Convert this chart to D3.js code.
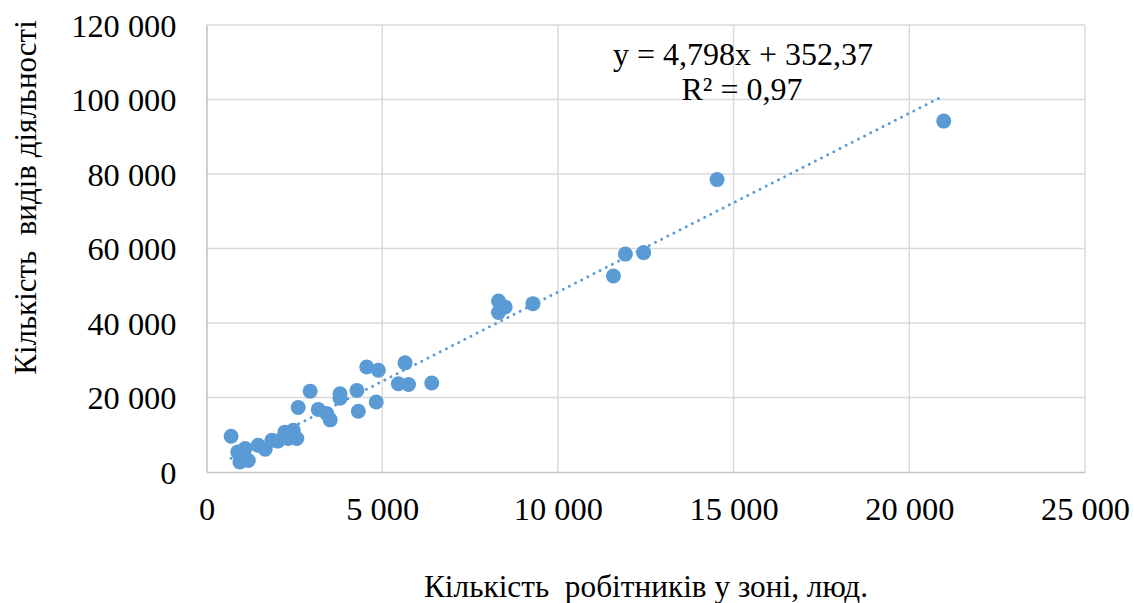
<!DOCTYPE html>
<meta charset="utf-8">
<style>
  body { margin: 0; background: #fff; }
</style>
<body>
<script src="https://cdnjs.cloudflare.com/ajax/libs/d3/7.8.5/d3.min.js"></script>
<script>
  // workers in zone (x) and kinds of activity (y)
  var workers = [700, 890, 1100, 950, 1190, 1040, 1470, 1670, 1860, 2030,
    2230, 2470, 2320, 2570, 2610, 2950, 3180, 3420, 3520, 3800,
    3800, 4280, 4320, 4560, 4890, 4830, 5460, 5750, 5650, 6410,
    8310, 8310, 8500, 9290, 11580, 11920, 12440, 14530, 20980];
  var activities = [9600, 5400, 6300, 2700, 3100, 4200, 7200, 6100, 8500, 8300,
    10700, 11200, 9000, 9000, 17300, 21700, 16800, 15700, 14000, 21000,
    19800, 21900, 16300, 28200, 27300, 18800, 23700, 23500, 29300, 23900,
    45900, 42800, 44300, 45200, 52600, 58500, 58900, 78500, 94200];

  var xTicks = [0, 5000, 10000, 15000, 20000, 25000];
  var yTicks = [0, 20000, 40000, 60000, 80000, 100000, 120000];

  var trendSlope = 4.798, trendIntercept = 352.37;
  var trendLabel = ["y = 4,798x + 352,37", "R² = 0,97"];
  var xTitle = "Кількість  робітників у зоні, люд.";
  var yTitle = "Кількість  видів діяльності";

  var font = "Liberation Serif, Times New Roman, serif";

  var W = 1133, H = 603;
  var margin = {top: 25, right: 48, bottom: 131, left: 206.5};
  var width = W - margin.left - margin.right,
      height = H - margin.top - margin.bottom;

  var locale = d3.formatLocale({decimal: ",", thousands: "\u00a0", grouping: [3], currency: ["", ""]});
  var fmt = locale.format(",");

  var svg = d3.select("body").append("svg")
    .attr("width", W)
    .attr("height", H)
    .attr("font-family", font);

  var g = svg.append("g")
    .attr("transform", "translate(" + margin.left + "," + margin.top + ")");

  var x = d3.scaleLinear().domain([0, 25000]).range([0, width]);
  var y = d3.scaleLinear().domain([0, 120000]).range([height, 0]);

  // gridlines
  g.append("g").selectAll("line")
    .data(yTicks.slice(1))
    .enter().append("line")
    .attr("x1", 0).attr("x2", width)
    .attr("y1", function(d) { return y(d); })
    .attr("y2", function(d) { return y(d); })
    .attr("stroke", "#d9d9d9").attr("stroke-width", 1.4);

  g.append("g").selectAll("line")
    .data(xTicks.slice(1))
    .enter().append("line")
    .attr("y1", 0).attr("y2", height)
    .attr("x1", function(d) { return x(d); })
    .attr("x2", function(d) { return x(d); })
    .attr("stroke", "#d9d9d9").attr("stroke-width", 1.4);

  // axes
  var xAxis = d3.axisBottom(x).tickValues(xTicks).tickFormat(fmt).tickSize(0).tickPadding(25);
  var yAxis = d3.axisLeft(y).tickValues(yTicks).tickFormat(fmt).tickSize(0).tickPadding(30);

  var gx = g.append("g")
    .attr("transform", "translate(0," + height + ")")
    .call(xAxis);
  var gy = g.append("g").call(yAxis);

  [gx, gy].forEach(function(a) {
    a.attr("font-family", font).attr("font-size", 32.4);
    a.select(".domain").attr("stroke", "#c4c4c4").attr("stroke-width", 1.6);
    a.selectAll("text").attr("fill", "#000");
  });
  gy.selectAll("text").attr("dy", "0.34em");

  // points
  var pts = workers.map(function(d, i) { return [d, activities[i]]; });
  g.append("g").selectAll("circle")
    .data(pts)
    .enter().append("circle")
    .attr("cx", function(d) { return x(d[0]); })
    .attr("cy", function(d) { return y(d[1]); })
    .attr("r", 7.5)
    .attr("fill", "#5b9bd5");

  // trendline
  var x0 = d3.min(workers), x1 = d3.max(workers) - 150;
  g.append("line")
    .attr("x1", x(x0)).attr("y1", y(trendSlope * x0 + trendIntercept))
    .attr("x2", x(x1)).attr("y2", y(trendSlope * x1 + trendIntercept))
    .attr("stroke", "#5b9bd5")
    .attr("stroke-width", 3)
    .attr("stroke-linecap", "round")
    .attr("stroke-dasharray", "0 6.9");

  // trendline label
  svg.append("text")
    .attr("x", 743).attr("y", 65)
    .attr("text-anchor", "middle")
    .attr("font-size", 32)
    .text(trendLabel[0]);
  svg.append("text")
    .attr("x", 742).attr("y", 100)
    .attr("text-anchor", "middle")
    .attr("font-size", 32)
    .text(trendLabel[1]);

  // axis titles
  svg.append("text")
    .attr("x", 646).attr("y", 597)
    .attr("text-anchor", "middle")
    .attr("font-size", 31.3)
    .style("white-space", "pre")
    .text(xTitle);

  svg.append("text")
    .attr("transform", "translate(35.5,197.5) rotate(-90)")
    .attr("text-anchor", "middle")
    .attr("font-size", 31)
    .style("white-space", "pre")
    .text(yTitle);
</script>
</body>
